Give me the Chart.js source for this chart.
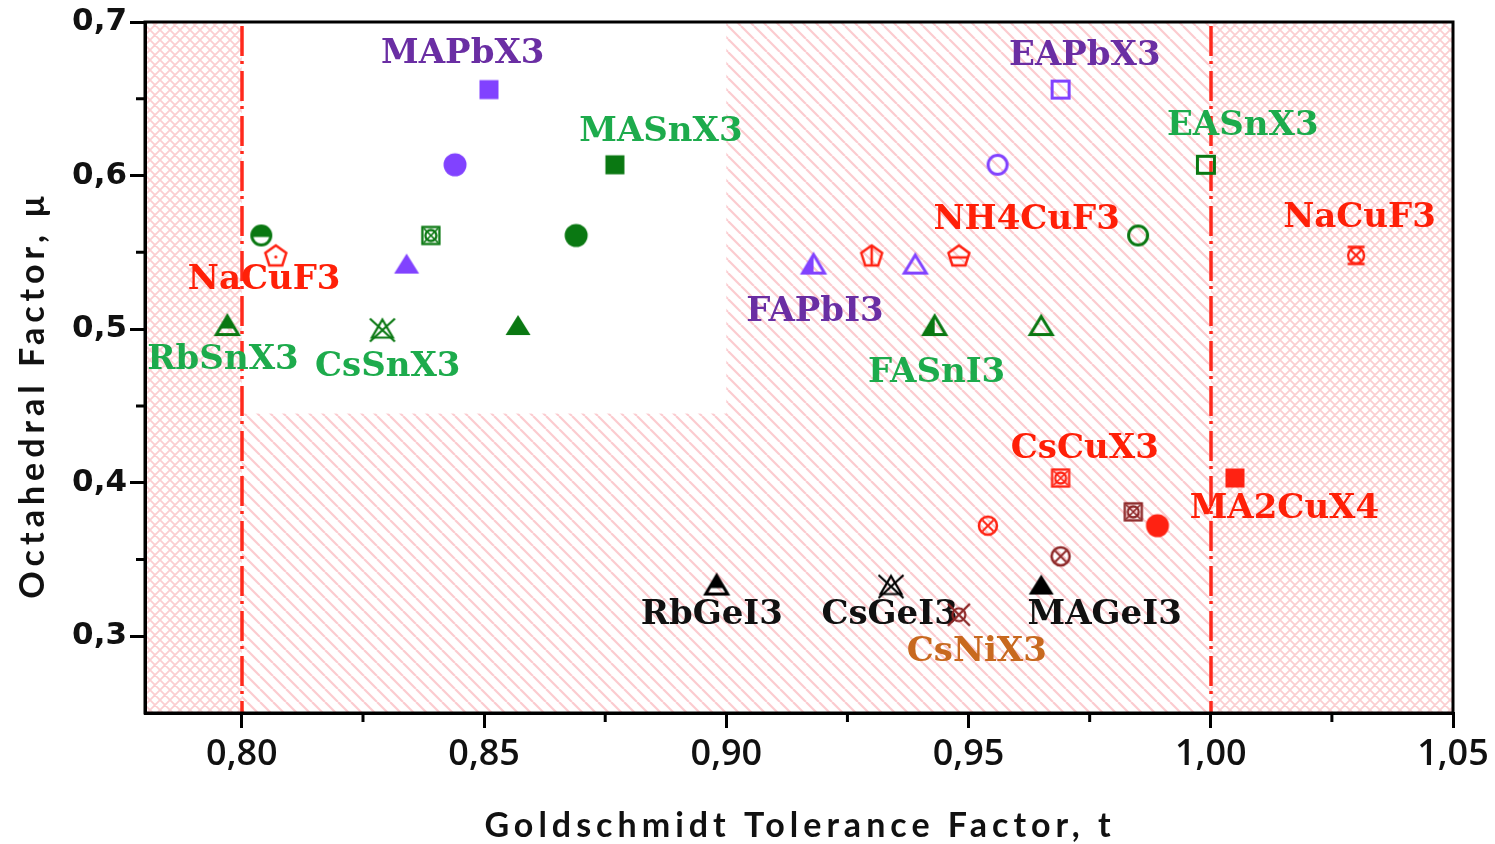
<!DOCTYPE html>
<html>
<head>
<meta charset="utf-8">
<script src="https://cdn.jsdelivr.net/npm/chart.js@4.4.1/dist/chart.umd.min.js"></script>
<style>
  html, body { margin: 0; padding: 0; background: #fff; overflow: hidden; }
  canvas { display: block; }
</style>
</head>
<body>
<canvas id="map" width="1495" height="844"></canvas>
<script>
// Perovskite formability map: Goldschmidt tolerance factor t vs octahedral factor μ

// ---- data -------------------------------------------------------------
const pointFamily = [
  'MAPbX3', 'MAPbX3', 'MAPbX3',
  'MASnX3', 'MASnX3', 'RbSnX3', 'NaCuF3', 'CsSnX3',
  'RbSnX3', 'CsSnX3', 'MASnX3',
  'FAPbI3', 'FAPbI3', 'NH4CuF3', 'NH4CuF3',
  'EAPbX3', 'EAPbX3', 'EASnX3', 'EASnX3',
  'FASnI3', 'FASnI3', 'NaCuF3',
  'CsCuX3', 'CsCuX3', 'CsCuX3', 'MA2CuX4', 'CsCuX3', 'MA2CuX4',
  'RbGeI3', 'CsGeI3', 'MAGeI3', 'CsNiX3'
];
const toleranceT = [
  0.851, 0.844, 0.834,
  0.877, 0.869, 0.804, 0.807, 0.839,
  0.797, 0.829, 0.857,
  0.918, 0.939, 0.930, 0.948,
  0.956, 0.969, 0.999, 0.985,
  0.943, 0.965, 1.030,
  0.969, 0.954, 0.984, 0.989, 0.969, 1.005,
  0.898, 0.934, 0.965, 0.948
];
const octahedralMu = [
  0.656, 0.607, 0.542,
  0.607, 0.561, 0.561, 0.548, 0.561,
  0.502, 0.500, 0.502,
  0.542, 0.542, 0.548, 0.548,
  0.607, 0.656, 0.607, 0.561,
  0.502, 0.502, 0.548,
  0.403, 0.372, 0.381, 0.372, 0.352, 0.403,
  0.333, 0.333, 0.333, 0.314
];

const xTickValues = [0.80, 0.85, 0.90, 0.95, 1.00, 1.05];
const xMinorValues = [0.825, 0.875, 0.925, 0.975, 1.025];
const yTickValues = [0.3, 0.4, 0.5, 0.6, 0.7];
const yMinorValues = [0.35, 0.45, 0.55, 0.65];
const tBounds = [0.80, 1.00];          // dashed limits of t
const openWindowT = [0.80, 0.90];      // unhatched window, t range
const openWindowMu = [0.445, 0.70];    // unhatched window, μ range

// family captions and their anchor points (t, μ)
const captionText = ['MAPbX3', 'MASnX3', 'EAPbX3', 'EASnX3', 'NH4CuF3', 'NaCuF3', 'NaCuF3',
  'RbSnX3', 'CsSnX3', 'FAPbI3', 'FASnI3', 'CsCuX3', 'MA2CuX4', 'RbGeI3', 'CsGeI3', 'MAGeI3', 'CsNiX3'];
const captionT = [0.8456, 0.8865, 0.9740, 1.0066, 0.9620, 1.0307, 0.8046,
  0.7961, 0.8301, 0.9183, 0.9434, 0.9740, 1.0152, 0.8970, 0.9337, 0.9781, 0.9517];
const captionMu = [0.6795, 0.6290, 0.6785, 0.6329, 0.5717, 0.5730, 0.5326,
  0.4805, 0.4759, 0.5117, 0.4720, 0.4225, 0.3834, 0.3143, 0.3143, 0.3143, 0.2902];

// ---- styles -----------------------------------------------------------
const ink = {
  purple: '#8142ff', green: '#0a7812', red: '#ff2212', dred: '#8c2626', black: '#000000',
  tPurple: '#6a2ea3', tGreen: '#1dab4c', tRed: '#ff2008', tBlack: '#111111', tOrange: '#c8691f'
};
const pointMarker = [
  ['sq', 'purple'], ['circ', 'purple'], ['tri', 'purple'],
  ['sq', 'green'], ['circ', 'green'], ['circHalf', 'green'], ['pentDot', 'red'], ['sqCx', 'green'],
  ['triHalf', 'green'], ['triX', 'green'], ['tri', 'green'],
  ['triLeft', 'purple'], ['triOpen', 'purple'], ['pentV', 'red'], ['pentH', 'red'],
  ['circOpen', 'purple'], ['sqOpen', 'purple'], ['sqOpen', 'green'], ['circOpen', 'green'],
  ['triLeft', 'green'], ['triOpen', 'green'], ['circXBar', 'red'],
  ['sqCx', 'red'], ['circX', 'red'], ['sqCx', 'dred'], ['circ', 'red'], ['circX', 'dred'], ['sq', 'red'],
  ['triHalf', 'black'], ['triX', 'black'], ['tri', 'black'], ['xCirc', 'dred']
];
const captionColor = ['tPurple', 'tGreen', 'tPurple', 'tGreen', 'tRed', 'tRed', 'tRed',
  'tGreen', 'tGreen', 'tPurple', 'tGreen', 'tRed', 'tRed', 'tBlack', 'tBlack', 'tBlack', 'tOrange'];

// ---- marker glyphs ----------------------------------------------------
function makeMarker(shape, color) {
  const S = 36, c = document.createElement('canvas');
  c.width = S; c.height = S;
  const g = c.getContext('2d');
  const cx = S / 2, cy = S / 2;
  g.strokeStyle = color; g.fillStyle = color; g.lineWidth = 3;
  g.lineJoin = 'miter'; g.lineCap = 'butt';
  const triPath = (hw, top, base) => {
    g.beginPath(); g.moveTo(cx, cy + top); g.lineTo(cx + hw, cy + base); g.lineTo(cx - hw, cy + base); g.closePath();
  };
  const pentPath = (r) => {
    g.beginPath();
    for (let i = 0; i < 5; i++) {
      const a = -Math.PI / 2 + i * 2 * Math.PI / 5;
      const px = cx + r * Math.cos(a), py = cy + 1 + r * Math.sin(a);
      i ? g.lineTo(px, py) : g.moveTo(px, py);
    }
    g.closePath();
  };
  const cross = (r) => {
    g.beginPath();
    g.moveTo(cx - r, cy - r); g.lineTo(cx + r, cy + r);
    g.moveTo(cx + r, cy - r); g.lineTo(cx - r, cy + r);
    g.stroke();
  };
  switch (shape) {
    case 'sq': g.fillRect(cx - 9.5, cy - 9.5, 19, 19); break;
    case 'sqOpen': g.strokeRect(cx - 8.5, cy - 8.5, 17, 17); break;
    case 'circ': g.beginPath(); g.arc(cx, cy, 11.5, 0, 2 * Math.PI); g.fill(); break;
    case 'circOpen': g.beginPath(); g.arc(cx, cy, 9.5, 0, 2 * Math.PI); g.stroke(); break;
    case 'tri': triPath(12.5, -11, 9); g.fill(); break;
    case 'triOpen': triPath(11, -9.5, 8.5); g.stroke(); break;
    case 'triHalf':
      triPath(11, -10, 8.5); g.stroke();
      g.save(); g.beginPath(); g.rect(0, 0, S, cy + 2.5); g.clip(); triPath(11, -10, 8.5); g.fill(); g.restore();
      break;
    case 'triLeft':
      triPath(11, -10, 8.5); g.stroke();
      g.save(); g.beginPath(); g.rect(0, 0, cx, S); g.clip(); triPath(11, -10, 8.5); g.fill(); g.restore();
      break;
    case 'triX':
      g.lineWidth = 2.2; triPath(10.5, -9.5, 8.5); g.stroke();
      g.beginPath(); g.moveTo(cx - 12.5, cy - 10.5); g.lineTo(cx + 12.5, cy + 12.5);
      g.moveTo(cx + 12.5, cy - 10.5); g.lineTo(cx - 12.5, cy + 12.5); g.stroke();
      break;
    case 'circHalf':
      g.beginPath(); g.arc(cx, cy, 9.5, 0, 2 * Math.PI); g.stroke();
      g.beginPath(); g.arc(cx, cy, 9.5, Math.PI, 2 * Math.PI); g.lineTo(cx + 9.5, cy + 1.5); g.lineTo(cx - 9.5, cy + 1.5); g.closePath(); g.fill();
      break;
    case 'pentDot': g.lineWidth = 2.5; pentPath(11); g.stroke(); g.beginPath(); g.arc(cx, cy + 1.5, 1.6, 0, 2 * Math.PI); g.fill(); break;
    case 'pentV': g.lineWidth = 2.5; pentPath(11); g.stroke(); g.beginPath(); g.moveTo(cx, cy - 10); g.lineTo(cx, cy + 10); g.stroke(); break;
    case 'pentH': g.lineWidth = 2.5; pentPath(11); g.stroke(); g.beginPath(); g.moveTo(cx - 9.5, cy + 2); g.lineTo(cx + 9.5, cy + 2); g.stroke(); break;
    case 'sqCx':
      g.lineWidth = 2.3; g.strokeRect(cx - 8.5, cy - 8.5, 17, 17);
      g.beginPath(); g.arc(cx, cy, 5.5, 0, 2 * Math.PI); g.stroke();
      g.lineWidth = 1.7; cross(7);
      break;
    case 'circX':
      g.lineWidth = 2.5; g.beginPath(); g.arc(cx, cy, 9, 0, 2 * Math.PI); g.stroke();
      g.lineWidth = 1.9; cross(5.5);
      break;
    case 'circXBar':
      g.lineWidth = 2.3; g.beginPath(); g.arc(cx, cy, 8, 0, 2 * Math.PI); g.stroke();
      g.lineWidth = 1.9; cross(5.5);
      g.lineWidth = 2.3; g.beginPath(); g.moveTo(cx - 8.5, cy - 8.5); g.lineTo(cx + 8.5, cy - 8.5); g.moveTo(cx - 8.5, cy + 8.5); g.lineTo(cx + 8.5, cy + 8.5); g.stroke();
      break;
    case 'xCirc':
      g.lineWidth = 2.2; g.beginPath(); g.arc(cx, cy, 6.5, 0, 2 * Math.PI); g.stroke();
      g.lineWidth = 2.4; cross(11);
      break;
  }
  return c;
}

// ---- background hatching ----------------------------------------------
function hatchTile(size, dirs, color, width) {
  const c = document.createElement('canvas');
  c.width = size; c.height = size;
  const g = c.getContext('2d');
  g.fillStyle = '#ffffff'; g.fillRect(0, 0, size, size);
  g.strokeStyle = color; g.lineWidth = width;
  g.beginPath();
  for (const k of [-size, 0, size]) {
    if (dirs.includes('\\')) { g.moveTo(k, 0); g.lineTo(k + size, size); }
    if (dirs.includes('/')) { g.moveTo(k, size); g.lineTo(k + size, 0); }
  }
  g.stroke();
  return c;
}

const frameLook = {
  id: 'frameLook',
  beforeDraw(chart) {
    const { ctx, chartArea: a, scales: { x, y } } = chart;
    const cross = ctx.createPattern(hatchTile(10, '\\/', 'rgba(247,165,172,0.55)', 1.8), 'repeat');
    const diag = ctx.createPattern(hatchTile(13, '\\', 'rgba(247,160,168,0.55)', 2.2), 'repeat');
    const x0 = x.getPixelForValue(tBounds[0]), x1 = x.getPixelForValue(tBounds[1]);
    ctx.save();
    ctx.fillStyle = cross;
    ctx.fillRect(a.left, a.top, x0 - a.left, a.bottom - a.top);
    ctx.fillRect(x1, a.top, a.right - x1, a.bottom - a.top);
    ctx.fillStyle = diag;
    ctx.fillRect(x0, a.top, x1 - x0, a.bottom - a.top);
    const wx0 = x.getPixelForValue(openWindowT[0]), wx1 = x.getPixelForValue(openWindowT[1]);
    const wy0 = y.getPixelForValue(openWindowMu[1]), wy1 = y.getPixelForValue(openWindowMu[0]);
    ctx.fillStyle = '#ffffff';
    ctx.fillRect(wx0, wy0, wx1 - wx0, wy1 - wy0);
    ctx.restore();
  },
  beforeDatasetsDraw(chart) {
    const { ctx, chartArea: a, scales: { x, y } } = chart;
    ctx.save();
    // dash-dot boundary lines
    ctx.strokeStyle = '#ff2a1c'; ctx.lineWidth = 3.5;
    ctx.setLineDash([30, 5, 3, 7]);
    for (const t of tBounds) {
      const px = Math.round(x.getPixelForValue(t));
      ctx.beginPath(); ctx.moveTo(px, a.top + 4); ctx.lineTo(px, a.bottom); ctx.stroke();
    }
    ctx.setLineDash([]);
    // family captions
    ctx.font = 'bold 34px "DejaVu Serif"';
    ctx.textAlign = 'center'; ctx.textBaseline = 'middle';
    captionText.forEach((txt, i) => {
      ctx.fillStyle = ink[captionColor[i]];
      ctx.fillText(txt, x.getPixelForValue(captionT[i]), y.getPixelForValue(captionMu[i]) + 1);
    });
    ctx.restore();
  },
  afterDraw(chart) {
    const { ctx, chartArea: a, scales: { x, y } } = chart;
    ctx.save();
    ctx.strokeStyle = '#000'; ctx.lineWidth = 3;
    ctx.strokeRect(a.left, a.top, a.right - a.left, a.bottom - a.top);
    ctx.beginPath();
    for (const v of xMinorValues) {
      const px = x.getPixelForValue(v);
      ctx.moveTo(px, a.bottom); ctx.lineTo(px, a.bottom + 9);
    }
    for (const v of yMinorValues) {
      const py = y.getPixelForValue(v);
      ctx.moveTo(a.left, py); ctx.lineTo(a.left - 9, py);
    }
    ctx.stroke();
    // axis titles
    ctx.fillStyle = '#111';
    ctx.font = 'bold 34px Lato';
    ctx.letterSpacing = '5px';
    ctx.textAlign = 'center'; ctx.textBaseline = 'middle';
    ctx.fillText('Goldschmidt Tolerance Factor, t', 800, 826);
    ctx.translate(33, 395);
    ctx.rotate(-Math.PI / 2);
    ctx.fillText('Octahedral Factor, μ', 0, 0);
    ctx.restore();
  }
};

const points = toleranceT.map((t, i) => ({ x: t, y: octahedralMu[i] }));
const glyphs = pointMarker.map(([shape, col]) => makeMarker(shape, ink[col]));

new Chart(document.getElementById('map'), {
  type: 'scatter',
  data: {
    datasets: [{
      label: 'compounds',
      data: points,
      pointStyle: glyphs,
      pointRadius: 12,
      pointHoverRadius: 12,
      showLine: false
    }]
  },
  options: {
    responsive: false,
    animation: false,
    devicePixelRatio: 1,
    events: [],
    layout: { padding: { top: 22, right: 42, left: 0, bottom: 0 } },
    plugins: { legend: { display: false }, tooltip: { enabled: false } },
    scales: {
      x: {
        type: 'linear', min: 0.78, max: 1.05,
        afterBuildTicks: s => { s.ticks = xTickValues.map(v => ({ value: v })); },
        afterFit: s => { s.height = 131; },
        grid: { display: true, drawOnChartArea: false, drawTicks: true, tickLength: 15, color: '#000', lineWidth: 3 },
        border: { display: true, color: '#000', width: 3 },
        ticks: {
          autoSkip: false, maxRotation: 0, padding: 5, color: '#111',
          font: { family: '"Open Sans"', size: 36, weight: '600' },
          callback: v => v.toFixed(2).replace('.', ',')
        }
      },
      y: {
        type: 'linear', min: 0.25, max: 0.70,
        afterBuildTicks: s => { s.ticks = yTickValues.map(v => ({ value: v })); },
        afterFit: s => { s.width = 145; },
        grid: { display: true, drawOnChartArea: false, drawTicks: true, tickLength: 15, color: '#000', lineWidth: 3 },
        border: { display: true, color: '#000', width: 3 },
        ticks: {
          autoSkip: false, padding: 3, color: '#111',
          font: { family: '"DejaVu Sans"', size: 31, weight: 'bold' },
          callback: v => v.toFixed(1).replace('.', ',')
        }
      }
    }
  },
  plugins: [frameLook]
});
</script>
</body>
</html>
